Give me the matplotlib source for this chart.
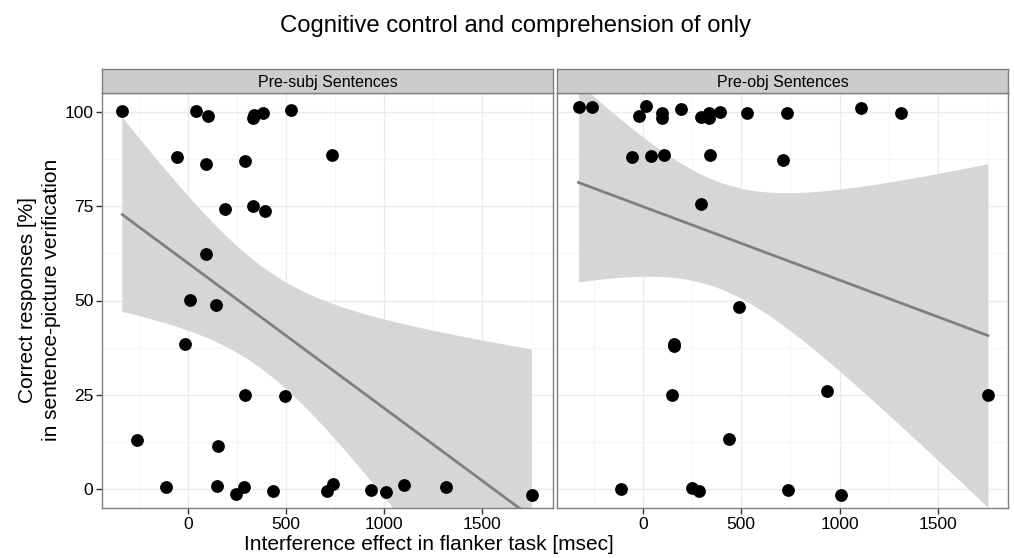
import numpy as np
import matplotlib
matplotlib.use("Agg")
import matplotlib.pyplot as plt

plt.rcParams['font.family'] = ['Liberation Sans', 'DejaVu Sans']

# interference effect (msec) and correct responses (%)
subj_x = [-333, 41, 105, 330, 337, 383, 524, -54, 91, 290, 734, 191, 332, 392, 91,
          13, 145, -14, 293, 493, -256, 152, -112, 147, 246, 286, 435, 710, 737,
          934, 1007, 1101, 1313, 1752]
subj_y = [100.2, 100.2, 98.9, 98.4, 99.1, 99.6, 100.5, 88.1, 86.1, 86.8, 88.4, 74.2,
          74.9, 73.8, 62.4, 50.1, 48.7, 38.6, 25.1, 24.6, 13.0, 11.4, 0.6, 0.9, -1.1,
          0.6, -0.3, -0.5, 1.5, -0.1, -0.7, 1.1, 0.6, -1.4]

obj_x = [-327, -258, 15, -22, 97, 97, 196, 296, 334, 334, 393, 529, 735, 1107, 1315,
         -54, 39, 108, 339, 710, 296, 491, 156, 156, 147, 934, 1754, 439, -109, 249,
         283, 740, 1008]
obj_y = [101.1, 101.1, 101.5, 98.9, 99.7, 98.4, 100.7, 98.6, 99.7, 98.4, 100.0, 99.6,
         99.5, 100.9, 99.5, 88.1, 88.3, 88.6, 88.6, 87.3, 75.5, 48.4, 38.6, 38.0, 25.0,
         26.0, 25.0, 13.3, 0.0, 0.4, -0.5, -0.1, -1.4]

panels = ["Pre-subj Sentences", "Pre-obj Sentences"]
x_ticks = [0, 500, 1000, 1500]
y_ticks = [0, 25, 50, 75, 100]

W, H = 1014, 558
fig = plt.figure(figsize=(W / 100, H / 100), dpi=100)


def fx(px):
    return px / W


def fy(py):
    return 1 - py / H


def smooth(ax, x, y, tval):
    # lm fit with 95% band, like geom_smooth(method="lm")
    x = np.asarray(x, float)
    y = np.asarray(y, float)
    n = len(x)
    b, a = np.polyfit(x, y, 1)
    resid = y - (a + b * x)
    s = np.sqrt(np.sum(resid ** 2) / (n - 2))
    xs = np.linspace(x.min(), x.max(), 200)
    fit = a + b * xs
    se = s * np.sqrt(1 / n + (xs - x.mean()) ** 2 / np.sum((x - x.mean()) ** 2))
    ax.fill_between(xs, fit - tval * se, fit + tval * se, color='#d6d6d6', lw=0, zorder=2)
    ax.plot(xs, fit, color='#7f7f7f', lw=2, zorder=3)


data = [(subj_x, subj_y, 2.037), (obj_x, obj_y, 2.040)]
lefts = [102.3, 557.3]
rights = [552.7, 1008.3]
top, bottom = 92.7, 508.3
strip_top = 69.3

for i, (name, (xv, yv, tval)) in enumerate(zip(panels, data)):
    ax = fig.add_axes([fx(lefts[i]), fy(bottom), fx(rights[i] - lefts[i]), (bottom - top) / H])
    ax.set_xlim(-435, 1858)
    ax.set_ylim(-5, 105)
    ax.set_xticks(x_ticks)
    ax.set_yticks(y_ticks)
    ax.set_xticks([-250, 250, 750, 1250, 1750], minor=True)
    ax.set_yticks([12.5, 37.5, 62.5, 87.5], minor=True)
    ax.grid(which='major', color='#ebebeb', lw=1.0, zorder=0)
    ax.grid(which='minor', color='#f5f5f5', lw=0.8, zorder=0)
    ax.set_axisbelow(True)
    for sp in ax.spines.values():
        sp.set_color('#7f7f7f')
        sp.set_linewidth(1.0)
    ax.tick_params(which='major', length=4.5, width=1, color='#333333',
                   labelsize=12.5, labelcolor='black', pad=2)
    ax.tick_params(which='minor', length=0)
    if i == 1:
        ax.tick_params(axis='y', labelleft=False, length=0)

    smooth(ax, xv, yv, tval)
    ax.scatter(xv, yv, s=85, color='black', lw=0, zorder=4, clip_on=False)

    sax = fig.add_axes([fx(lefts[i]), fy(top), fx(rights[i] - lefts[i]), (top - strip_top) / H])
    sax.set_facecolor('#cccccc')
    sax.set_xticks([])
    sax.set_yticks([])
    for sp in sax.spines.values():
        sp.set_color('#7f7f7f')
        sp.set_linewidth(1.0)
    sax.text(0.5, 0.45, name, ha='center', va='center', fontsize=11.5, transform=sax.transAxes)

fig.text(fx(516), fy(26), "Cognitive control and comprehension of only",
         ha='center', va='center', fontsize=17.2)
fig.text(fx(429), fy(544), "Interference effect in flanker task [msec]",
         ha='center', va='center', fontsize=15)
fig.text(fx(28), fy(300), "Correct responses [%]",
         ha='center', va='center', rotation=90, fontsize=15)
fig.text(fx(52), fy(300), "in sentence-picture verification",
         ha='center', va='center', rotation=90, fontsize=15)

fig.savefig("out.png", dpi=100)
